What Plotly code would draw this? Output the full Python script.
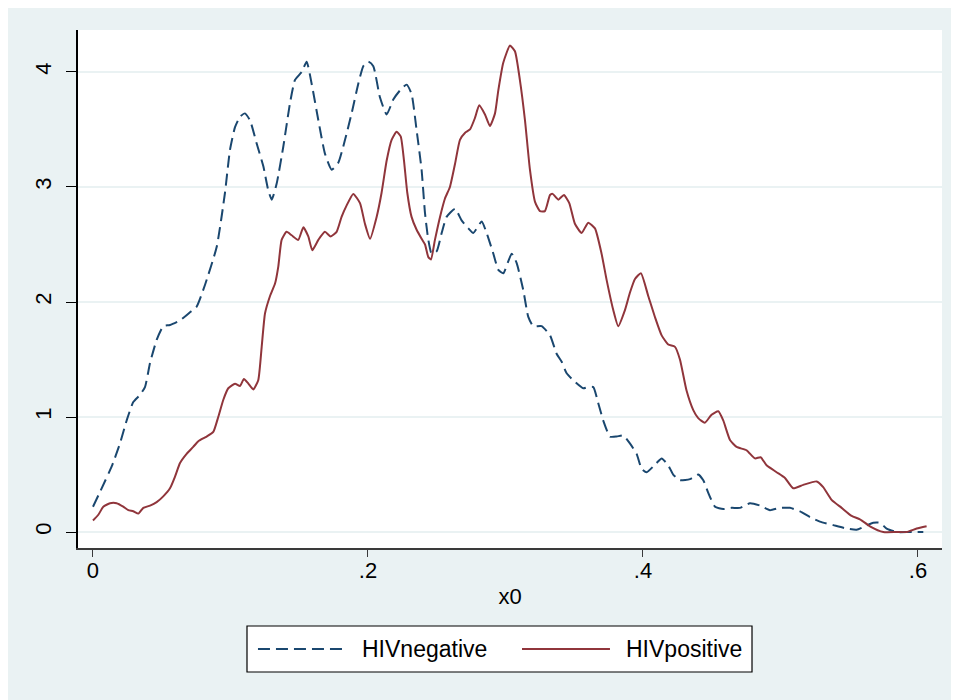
import plotly.graph_objects as go

# HIV negative density (dashed navy)
neg_x = [0.0, 0.0136, 0.0196, 0.0245, 0.0293, 0.034, 0.0378, 0.0415, 0.0463, 0.0511, 0.056, 0.0633,
         0.0705, 0.0754, 0.0815, 0.09, 0.096, 0.0996, 0.1033, 0.1069, 0.1105, 0.1142, 0.119, 0.1239,
         0.1275, 0.13, 0.1336, 0.1384, 0.1433, 0.1469, 0.1518, 0.1554, 0.159, 0.1639, 0.1687, 0.1736,
         0.1784, 0.1833, 0.1881, 0.193, 0.1966, 0.2002, 0.2039, 0.2087, 0.2136, 0.2184, 0.2233, 0.2281,
         0.2317, 0.2353, 0.239, 0.2415, 0.2439, 0.2463, 0.2499, 0.2536, 0.2572, 0.2633, 0.2681, 0.273,
         0.2766, 0.2827, 0.2863, 0.2912, 0.2948, 0.2984, 0.3045, 0.3081, 0.313, 0.3166, 0.3202, 0.3263,
         0.3324, 0.3372, 0.3409, 0.3445, 0.3493, 0.3566, 0.3602, 0.3639, 0.3675, 0.3711, 0.376, 0.3808,
         0.3857, 0.3905, 0.3954, 0.399, 0.4027, 0.4099, 0.4136, 0.4184, 0.422, 0.4269, 0.4342, 0.4402,
         0.4439, 0.4475, 0.4524, 0.4584, 0.4645, 0.4705, 0.4778, 0.4851, 0.4924, 0.4996, 0.5069, 0.5142,
         0.5215, 0.5287, 0.5384, 0.5481, 0.5554, 0.5615, 0.5675, 0.5724, 0.5772, 0.5845, 0.5942, 0.6039]
neg_y = [0.22, 0.57, 0.77, 0.97, 1.13, 1.19, 1.26, 1.47, 1.67, 1.79, 1.80, 1.84,
         1.91, 1.96, 2.15, 2.48, 2.95, 3.32, 3.52, 3.61, 3.64, 3.58, 3.38, 3.18,
         2.97, 2.89, 3.03, 3.35, 3.73, 3.93, 4.00, 4.09, 3.90, 3.58, 3.29, 3.15,
         3.21, 3.41, 3.64, 3.90, 4.05, 4.09, 4.05, 3.78, 3.63, 3.76, 3.84, 3.89,
         3.81, 3.50, 3.15, 2.77, 2.54, 2.42, 2.44, 2.60, 2.74, 2.81, 2.71, 2.64,
         2.60, 2.70, 2.60, 2.42, 2.28, 2.25, 2.42, 2.34, 2.10, 1.87, 1.79, 1.79,
         1.71, 1.55, 1.48, 1.38, 1.32, 1.25, 1.26, 1.26, 1.12, 0.97, 0.83, 0.83,
         0.84, 0.77, 0.68, 0.55, 0.52, 0.60, 0.64, 0.58, 0.50, 0.45, 0.46, 0.50,
         0.45, 0.34, 0.22, 0.20, 0.21, 0.21, 0.25, 0.23, 0.19, 0.21, 0.21, 0.18,
         0.13, 0.09, 0.06, 0.03, 0.02, 0.05, 0.08, 0.08, 0.03, 0.00, 0.00, 0.00]

# HIV positive density (solid maroon)
pos_x = [0.0, 0.0039, 0.0075, 0.0124, 0.0172, 0.022, 0.0257, 0.0293, 0.033, 0.0366, 0.0415, 0.0463,
         0.0511, 0.056, 0.0596, 0.0633, 0.0681, 0.0729, 0.0766, 0.0827, 0.0875, 0.0911, 0.0948, 0.0984,
         0.1033, 0.1069, 0.1098, 0.113, 0.1166, 0.1202, 0.1227, 0.1251, 0.1287, 0.1324, 0.1348, 0.1372,
         0.1408, 0.1445, 0.1493, 0.153, 0.1566, 0.1595, 0.1639, 0.1687, 0.1729, 0.1772, 0.1808, 0.1845,
         0.1893, 0.1942, 0.1978, 0.2015, 0.2063, 0.2099, 0.2136, 0.2172, 0.2208, 0.2238, 0.2262, 0.2286,
         0.2317, 0.2353, 0.239, 0.2415, 0.2439, 0.2458, 0.2487, 0.2524, 0.256, 0.2596, 0.2633, 0.2669,
         0.2705, 0.2742, 0.2778, 0.2809, 0.2851, 0.2887, 0.2924, 0.2948, 0.2984, 0.3033, 0.3069, 0.3105,
         0.3142, 0.3178, 0.3215, 0.3251, 0.3287, 0.3324, 0.3343, 0.3384, 0.3425, 0.3464, 0.3505, 0.3554,
         0.3602, 0.3651, 0.3699, 0.3736, 0.3784, 0.382, 0.3869, 0.3905, 0.3942, 0.3985, 0.4039, 0.4087,
         0.4136, 0.4184, 0.4233, 0.4269, 0.4317, 0.4366, 0.4402, 0.445, 0.4499, 0.4548, 0.4584, 0.4633,
         0.4681, 0.4754, 0.4815, 0.4856, 0.4899, 0.4972, 0.5033, 0.5093, 0.5166, 0.5263, 0.5311, 0.5372,
         0.5445, 0.5518, 0.5578, 0.5651, 0.5748, 0.5845, 0.5918, 0.5991, 0.6063]
pos_y = [0.10, 0.15, 0.22, 0.25, 0.25, 0.22, 0.19, 0.18, 0.16, 0.21, 0.23, 0.26,
         0.31, 0.38, 0.48, 0.60, 0.68, 0.74, 0.79, 0.83, 0.87, 1.00, 1.15, 1.25,
         1.29, 1.27, 1.33, 1.29, 1.24, 1.32, 1.61, 1.90, 2.05, 2.16, 2.31, 2.54,
         2.61, 2.58, 2.54, 2.65, 2.57, 2.45, 2.54, 2.61, 2.57, 2.61, 2.74, 2.84,
         2.94, 2.86, 2.68, 2.55, 2.74, 2.95, 3.23, 3.41, 3.48, 3.44, 3.23, 2.95,
         2.74, 2.63, 2.55, 2.50, 2.39, 2.37, 2.54, 2.74, 2.90, 3.00, 3.20, 3.41,
         3.47, 3.50, 3.60, 3.71, 3.63, 3.53, 3.64, 3.84, 4.08, 4.23, 4.18, 3.93,
         3.58, 3.15, 2.87, 2.79, 2.79, 2.93, 2.94, 2.89, 2.93, 2.86, 2.68, 2.60,
         2.69, 2.64, 2.42, 2.19, 1.93, 1.79, 1.93, 2.08, 2.20, 2.25, 2.05, 1.87,
         1.71, 1.63, 1.61, 1.50, 1.23, 1.06, 0.99, 0.95, 1.02, 1.05, 0.97, 0.80,
         0.74, 0.71, 0.64, 0.65, 0.58, 0.52, 0.47, 0.38, 0.41, 0.44, 0.39, 0.28,
         0.21, 0.14, 0.11, 0.05, 0.00, 0.00, 0.00, 0.03, 0.05]

series_names = ["HIVnegative", "HIVpositive"]
x_ticks = [0, 0.2, 0.4, 0.6]
x_tick_labels = ["0", ".2", ".4", ".6"]
y_ticks = [0, 1, 2, 3, 4]
y_tick_labels = ["0", "1", "2", "3", "4"]
x_title = "x0"

NAVY = "#1a476f"
MAROON = "#90353b"
BG = "#eaf2f3"
FONT = "Liberation Sans, Arial, sans-serif"
DASH = "12px,6px"

fig = go.Figure()
fig.add_trace(go.Scatter(x=neg_x, y=neg_y, mode="lines", name=series_names[0], showlegend=False,
                         line=dict(color=NAVY, width=2, dash=DASH, shape="spline", smoothing=0.5)))
fig.add_trace(go.Scatter(x=pos_x, y=pos_y, mode="lines", name=series_names[1], showlegend=False,
                         line=dict(color=MAROON, width=2, shape="spline", smoothing=0.5)))

# Legend box drawn below the plot (Stata style: long key samples)
leg_y = -0.195
shapes = [
    dict(type="rect", xref="paper", yref="paper", x0=0.1956, x1=0.7801, y0=-0.2394, y1=-0.1506,
         fillcolor="white", line=dict(color="black", width=1.2)),
    dict(type="line", xref="paper", yref="paper", x0=0.2083, x1=0.3090, y0=leg_y, y1=leg_y,
         line=dict(color=NAVY, width=2, dash=DASH)),
    dict(type="line", xref="paper", yref="paper", x0=0.5139, x1=0.6157, y0=leg_y, y1=leg_y,
         line=dict(color=MAROON, width=2)),
]
annotations = [
    dict(text=series_names[0], xref="paper", yref="paper", x=0.3264, y=leg_y, xanchor="left",
         yanchor="middle", showarrow=False, font=dict(size=23, family=FONT, color="black")),
    dict(text=series_names[1], xref="paper", yref="paper", x=0.6319, y=leg_y, xanchor="left",
         yanchor="middle", showarrow=False, font=dict(size=23, family=FONT, color="black")),
]

fig.update_layout(
    width=959, height=700,
    margin=dict(l=70, r=25, t=22, b=160),
    paper_bgcolor=BG, plot_bgcolor="white",
    font=dict(family=FONT, size=22, color="black"),
    showlegend=False,
    shapes=shapes, annotations=annotations,
    xaxis=dict(range=[-0.0109, 0.6175], tickvals=x_ticks, ticktext=x_tick_labels,
               showgrid=False, zeroline=False, showline=True, linecolor="#3a3a3a", linewidth=2,
               ticks="outside", ticklen=7, tickcolor="#3a3a3a", ticklabelstandoff=-5,
               title=dict(text=x_title, font=dict(size=22), standoff=6)),
    yaxis=dict(range=[-0.139, 4.365], tickvals=y_ticks, ticktext=y_tick_labels, tickangle=-90,
               showgrid=True, gridcolor=BG, gridwidth=2, zeroline=False,
               showline=True, linecolor="black", linewidth=1.5,
               ticks="outside", ticklen=10, tickcolor="black", ticklabelstandoff=6),
)

fig.write_html("out.html")
